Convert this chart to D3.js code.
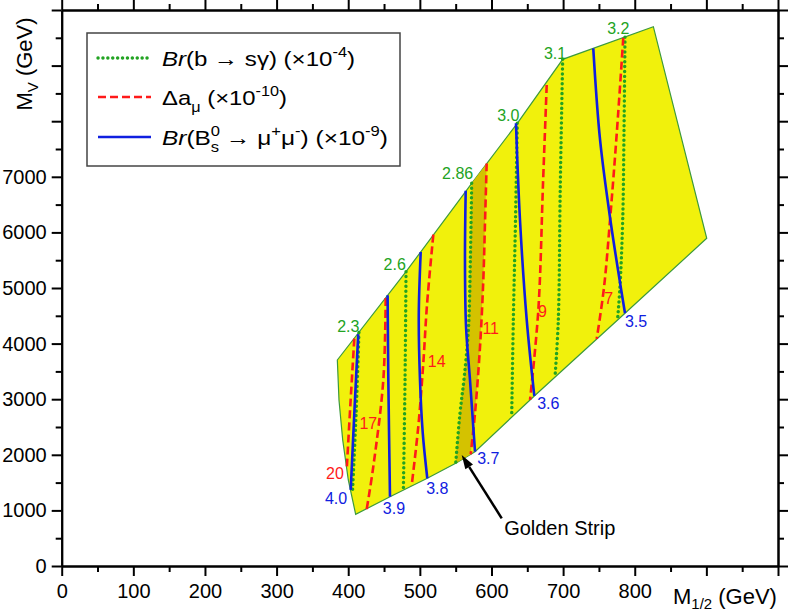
<!DOCTYPE html>
<html>
<head>
<meta charset="utf-8">
<script src="https://cdn.jsdelivr.net/npm/d3@7"></script>
<style>
body { margin: 0; background: #fff; }
text { font-family: "Liberation Sans", Arial, sans-serif; }
</style>
</head>
<body>
<div class="chart"></div>
<script>
// allowed region outline (M1/2, MV)
var region = [
  [384.8, 3705], [480.7, 5293], [572.4, 6883], [636, 7962], [699.4, 9113],
  [826, 9700], [900.5, 5894], [786.4, 4545], [659.8, 3058], [577, 2056],
  [550.1, 1847], [510.4, 1577], [458.3, 1246], [410.4, 929],
  [400.1, 1547], [392.3, 2266], [387.1, 2986]
];

// Br(b -> s gamma) contours (x10^-4)
var bsgValues = ["2.3", "2.6", "2.86", "3.0", "3.1", "3.2"];
var bsgLines = [
  [[415, 4200], [411, 2746], [406, 1340]],
  [[480.7, 5293], [479.3, 3345], [477, 1365]],
  [[572.4, 6883], [570.5, 5500], [568, 4300], [562, 3400], [556, 2746], [550.1, 1847]],
  [[636, 7962], [633.5, 6200], [630.5, 4425], [628.2, 2680]],
  [[699.4, 9113], [696, 6800], [693.3, 4425], [688.7, 3400]],
  [[786.4, 9510], [785, 7800], [783.2, 6223], [779.4, 5024], [776, 4430]]
];

// Delta a_mu contours (x10^-10)
var amuValues = ["20", "17", "14", "11", "9", "7"];
var amuLines = [
  [[408.5, 4090], [403, 2900], [398, 1760]],
  [[452.3, 4820], [449, 3345], [435, 1786], [425.8, 1020]],
  [[518.8, 5960], [510, 4700], [504.8, 3646], [497.8, 2505], [488.5, 1440]],
  [[593.3, 7240], [591, 6200], [588.6, 5144], [584, 3944], [577, 2746], [571, 2010]],
  [[677.1, 8650], [672, 6900], [665.4, 4604], [653.8, 2986]],
  [[784, 9500], [775, 7800], [765.5, 6223], [757, 5000], [746.9, 4085]]
];

// Br(Bs -> mu mu) contours (x10^-9)
var bmmValues = ["4.0", "3.9", "3.8", "3.7", "3.6", "3.5"];
var bmmLines = [
  [[414, 4170], [408.5, 2746], [403.5, 1370]],
  [[455, 4870], [456, 3345], [458.3, 1246]],
  [[501.2, 5648], [498.5, 4500], [500.2, 3345], [504, 2400], [510.4, 1577]],
  [[564, 6750], [563, 5500], [564.5, 4300], [570, 3345], [577, 2056]],
  [[634.2, 7962], [639.8, 6223], [649.2, 4425], [659.8, 3058]],
  [[742.1, 9311], [751.6, 7662], [766, 6223], [786.4, 4545]]
];

// label anchors (data coords)
var bsgLabelAt = [[400.1, 4304], [464.9, 5432], [552.8, 7063], [623.5, 8112], [688.7, 9222], [777.1, 9665]];
var amuLabelAt = [[381.5, 1667], [428, 2567], [523.5, 3675], [598.9, 4275], [671, 4574], [763.6, 4815]];
var bmmLabelAt = [[383, 1218], [463.9, 1038], [524.4, 1398], [595.6, 1937], [679.3, 2926], [801.8, 4394]];

var arrowTail = [614.3, 858];
var arrowTip = [558.4, 1996];

var W = 789, H = 612;
var svg = d3.select('div.chart').append('svg').attr('width', W).attr('height', H);

var x = d3.scaleLinear().domain([0, 1000]).range([61.7, 778]);
var y = d3.scaleLinear().domain([0, 10000]).range([566, 10]);

var lineGen = d3.line()
  .x(function(d){ return x(d[0]); })
  .y(function(d){ return y(d[1]); })
  .curve(d3.curveCatmullRom.alpha(0.5));

var polyGen = d3.line()
  .x(function(d){ return x(d[0]); })
  .y(function(d){ return y(d[1]); })
  .curve(d3.curveLinearClosed);

// region
svg.append('path')
  .datum(region)
  .attr('d', polyGen)
  .attr('fill', '#f1f10c')
  .attr('stroke', '#3c9a3c')
  .attr('stroke-width', 1.2);

// golden strip: between b->s gamma 2.86 and a_mu 11
var golden = bsgLines[2].concat(amuLines[3].slice().reverse());
svg.append('path')
  .datum(golden)
  .attr('d', polyGen)
  .attr('fill', '#d4c200')
  .attr('stroke', 'none');

// contour lines
svg.selectAll('.bsg').data(bsgLines).enter().append('path')
  .attr('class', 'bsg')
  .attr('d', lineGen)
  .attr('fill', 'none')
  .attr('stroke', '#22a322')
  .attr('stroke-width', 3.4)
  .attr('stroke-linecap', 'round')
  .attr('stroke-dasharray', '0.1,4.8');

svg.selectAll('.amu').data(amuLines).enter().append('path')
  .attr('class', 'amu')
  .attr('d', lineGen)
  .attr('fill', 'none')
  .attr('stroke', '#ff1a1a')
  .attr('stroke-width', 2.6)
  .attr('stroke-dasharray', '8,4');

svg.selectAll('.bmm').data(bmmLines).enter().append('path')
  .attr('class', 'bmm')
  .attr('d', lineGen)
  .attr('fill', 'none')
  .attr('stroke', '#1020e0')
  .attr('stroke-width', 2.6);

// contour labels
function labels(vals, pos, color){
  svg.append('g').selectAll('text').data(vals).enter().append('text')
    .attr('x', function(d, i){ return x(pos[i][0]); })
    .attr('y', function(d, i){ return y(pos[i][1]); })
    .attr('dy', '0.36em')
    .attr('text-anchor', 'middle')
    .style('font-size', '16px')
    .attr('fill', color)
    .text(function(d){ return d; });
}
labels(bsgValues, bsgLabelAt, '#22a322');
labels(amuValues, amuLabelAt, '#ff1a1a');
labels(bmmValues, bmmLabelAt, '#1020e0');

// golden strip arrow
var tx = x(arrowTail[0]), ty = y(arrowTail[1]), px = x(arrowTip[0]), py = y(arrowTip[1]);
var ang = Math.atan2(py - ty, px - tx), hl = 14, hw = 4.5;
var bx = px - hl * Math.cos(ang), by = py - hl * Math.sin(ang);
svg.append('line')
  .attr('x1', tx).attr('y1', ty).attr('x2', bx).attr('y2', by)
  .attr('stroke', '#000').attr('stroke-width', 2.5);
svg.append('path')
  .attr('d', 'M' + px + ',' + py +
    'L' + (bx + hw * Math.sin(ang)) + ',' + (by - hw * Math.cos(ang)) +
    'L' + (bx - hw * Math.sin(ang)) + ',' + (by + hw * Math.cos(ang)) + 'Z')
  .attr('fill', '#000');
svg.append('text')
  .attr('x', tx + 58).attr('y', ty + 17)
  .attr('text-anchor', 'middle')
  .style('font-size', '20px')
  .text('Golden Strip');

// axes: major + minor ticks on all sides
var xMajor = d3.range(0, 1001, 100), xMinor = d3.range(50, 1000, 100);
var yMajor = d3.range(0, 10001, 1000), yMinor = d3.range(500, 10000, 1000);

function axisStyle(g){
  g.selectAll('path').attr('stroke', '#000').attr('stroke-width', 2);
  g.selectAll('line').attr('stroke', '#000').attr('stroke-width', 2);
  g.selectAll('text').style('font-size', '20px').attr('fill', '#000').style('font-family', '"Liberation Sans", Arial, sans-serif');
}

svg.append('g').attr('transform', 'translate(0,' + y(0) + ')')
  .call(d3.axisBottom(x).tickValues(xMinor).tickSize(6).tickSizeOuter(0).tickFormat(''))
  .call(axisStyle);
svg.append('g').attr('transform', 'translate(0,' + y(0) + ')')
  .call(d3.axisBottom(x).tickValues(xMajor).tickSize(10).tickSizeOuter(0).tickPadding(8)
    .tickFormat(function(d){ return d <= 800 ? d : ''; }))
  .call(axisStyle);
svg.append('g').attr('transform', 'translate(0,' + y(10000) + ')')
  .call(d3.axisTop(x).tickValues(xMinor).tickSize(6).tickSizeOuter(0).tickFormat(''))
  .call(axisStyle);
svg.append('g').attr('transform', 'translate(0,' + y(10000) + ')')
  .call(d3.axisTop(x).tickValues(xMajor).tickSize(10).tickSizeOuter(0).tickFormat(''))
  .call(axisStyle);

svg.append('g').attr('transform', 'translate(' + x(0) + ',0)')
  .call(d3.axisLeft(y).tickValues(yMinor).tickSize(6).tickSizeOuter(0).tickFormat(''))
  .call(axisStyle);
svg.append('g').attr('transform', 'translate(' + x(0) + ',0)')
  .call(d3.axisLeft(y).tickValues(yMajor).tickSize(10).tickSizeOuter(0).tickPadding(5)
    .tickFormat(function(d){ return d <= 7000 ? d : ''; }))
  .call(axisStyle);
svg.append('g').attr('transform', 'translate(' + x(1000) + ',0)')
  .call(d3.axisRight(y).tickValues(yMinor).tickSize(6).tickSizeOuter(0).tickFormat(''))
  .call(axisStyle);
svg.append('g').attr('transform', 'translate(' + x(1000) + ',0)')
  .call(d3.axisRight(y).tickValues(yMajor).tickSize(10).tickSizeOuter(0).tickFormat(''))
  .call(axisStyle);

// rich text helper: parts = [text, kind]
function rich(t, parts, size, subShift){
  var base = 0, prev = null;
  var sub = subShift == null ? 0.32 : subShift;
  parts.forEach(function(p){
    var kind = p[1] || 'n';
    var target = kind == 'sup' ? -0.42 * size : (kind == 'sub' || kind == 'under') ? sub * size : 0;
    var s = t.append('tspan').text(p[0]).attr('dy', target - base);
    base = target;
    if (kind == 'sup' || kind == 'sub' || kind == 'under') s.style('font-size', (size * 0.68) + 'px');
    if (kind == 'i') s.style('font-style', 'italic');
    if (kind == 'under' && prev) s.attr('dx', -prev.node().getComputedTextLength());
    prev = s;
  });
}

// axis titles
var xt = svg.append('text').attr('x', 673).attr('y', 604).style('font-size', '22px');
rich(xt, [['M'], ['1/2', 'sub'], [' (GeV)']], 22, 0.24);

var yt = svg.append('text').attr('transform', 'translate(32,64) rotate(-90)')
  .attr('text-anchor', 'middle').style('font-size', '22px');
rich(yt, [['M'], ['V', 'sub'], [' (GeV)']], 22, 0.28);

// legend
var lg = svg.append('g');
lg.append('rect').attr('x', 87).attr('y', 33).attr('width', 313).attr('height', 133)
  .attr('fill', '#fff').attr('stroke', '#444').attr('stroke-width', 1.5);

var legendRows = [
  { y: 58, stroke: '#22a322', dash: '0.1,4.8', cap: 'round', w: 3.4, len: 193,
    parts: [['Br', 'i'], ['(b \u2192 s\u03b3) (\u00d710'], ['-4', 'sup'], [')']] },
  { y: 97, stroke: '#ff1a1a', dash: '8,4', cap: 'butt', w: 2.6, len: 125,
    parts: [['\u0394a'], ['\u03bc', 'sub'], [' (\u00d710'], ['-10', 'sup'], [')']] },
  { y: 137, stroke: '#1020e0', dash: null, cap: 'butt', w: 2.6, len: 226,
    parts: [['Br', 'i'], ['(B'], ['0', 'sup'], ['s', 'under'], [' \u2192 \u03bc'], ['+', 'sup'], ['\u03bc'], ['-', 'sup'], [') (\u00d710'], ['-9', 'sup'], [')']] }
];
legendRows.forEach(function(r){
  lg.append('line').attr('x1', 98).attr('x2', 151).attr('y1', r.y).attr('y2', r.y)
    .attr('stroke', r.stroke).attr('stroke-width', r.w)
    .attr('stroke-linecap', r.cap)
    .attr('stroke-dasharray', r.dash);
  var t = lg.append('text').attr('x', 162).attr('y', r.y + 8).style('font-size', '21px');
  rich(t, r.parts, 21);
  // stretch to the width seen in the reference legend
  t.attr('textLength', r.len).attr('lengthAdjust', 'spacingAndGlyphs');
});
</script>
</body>
</html>
